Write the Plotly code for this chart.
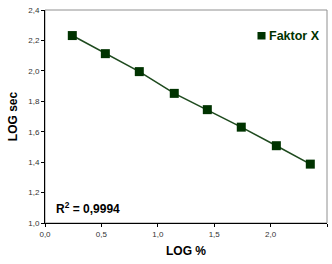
import plotly.graph_objects as go

log_pct = [0.242, 0.535, 0.836, 1.146, 1.439, 1.740, 2.051, 2.352]
log_sec = [2.232, 2.113, 1.995, 1.852, 1.745, 1.630, 1.508, 1.387]
series_name = "Faktor X"
r2_text = "R<sup>2</sup> = 0,9994"
x_ticks = [0.0, 0.5, 1.0, 1.5, 2.0, 2.5]
y_ticks = [1.0, 1.2, 1.4, 1.6, 1.8, 2.0, 2.2, 2.4]

dark = "#003300"
fig = go.Figure()
fig.add_trace(go.Scatter(
    x=log_pct, y=log_sec, mode="lines+markers", showlegend=False,
    line=dict(color="#1e4a1e", width=1.6),
    marker=dict(symbol="square", size=9, color=dark),
))

fig.update_layout(
    width=332, height=264,
    margin=dict(l=45, r=5, t=10, b=41),
    paper_bgcolor="white", plot_bgcolor="white",
    separators=", ",
    font=dict(family="Liberation Sans, Arial, sans-serif", color="#000"),
    showlegend=False,
    xaxis=dict(range=[0, 2.5], tickvals=x_ticks, tickformat=".1f",
               showgrid=False, zeroline=False, showline=True, linecolor="black", linewidth=1,
               ticks="outside", ticklen=3, tickcolor="black",
               tickfont=dict(size=8, color="#333"),
               title=dict(text="<b>LOG %</b>", font=dict(size=12), standoff=9)),
    yaxis=dict(range=[1.0, 2.4], tickvals=y_ticks, tickformat=".1f",
               showgrid=False, zeroline=False, showline=True, linecolor="black", linewidth=1,
               ticks="outside", ticklen=3, tickcolor="black",
               tickfont=dict(size=8, color="#333"),
               title=dict(text="<b>LOG sec</b>", font=dict(size=12), standoff=8)),
    shapes=[
        dict(type="rect", xref="paper", yref="paper", x0=0, y0=0, x1=1, y1=1,
             line=dict(color="#909090", width=1), layer="below"),
        dict(type="rect", xref="paper", yref="paper", x0=0.7535, x1=0.782, y0=0.8615, y1=0.8967,
             line=dict(width=0), fillcolor=dark),
    ],
    annotations=[
        dict(text="<b>" + series_name + "</b>", xref="paper", yref="paper", x=0.789, y=0.879,
             xanchor="left", yanchor="middle", showarrow=False,
             font=dict(size=12.5, color=dark)),
        dict(text="<b>" + r2_text + "</b>", xref="paper", yref="paper", x=0.033, y=0.072,
             xanchor="left", yanchor="middle", showarrow=False,
             font=dict(size=12, color="black")),
    ],
)

fig.write_html("out.html", config={"displayModeBar": False},
               post_script="document.body.style.margin='0';")
